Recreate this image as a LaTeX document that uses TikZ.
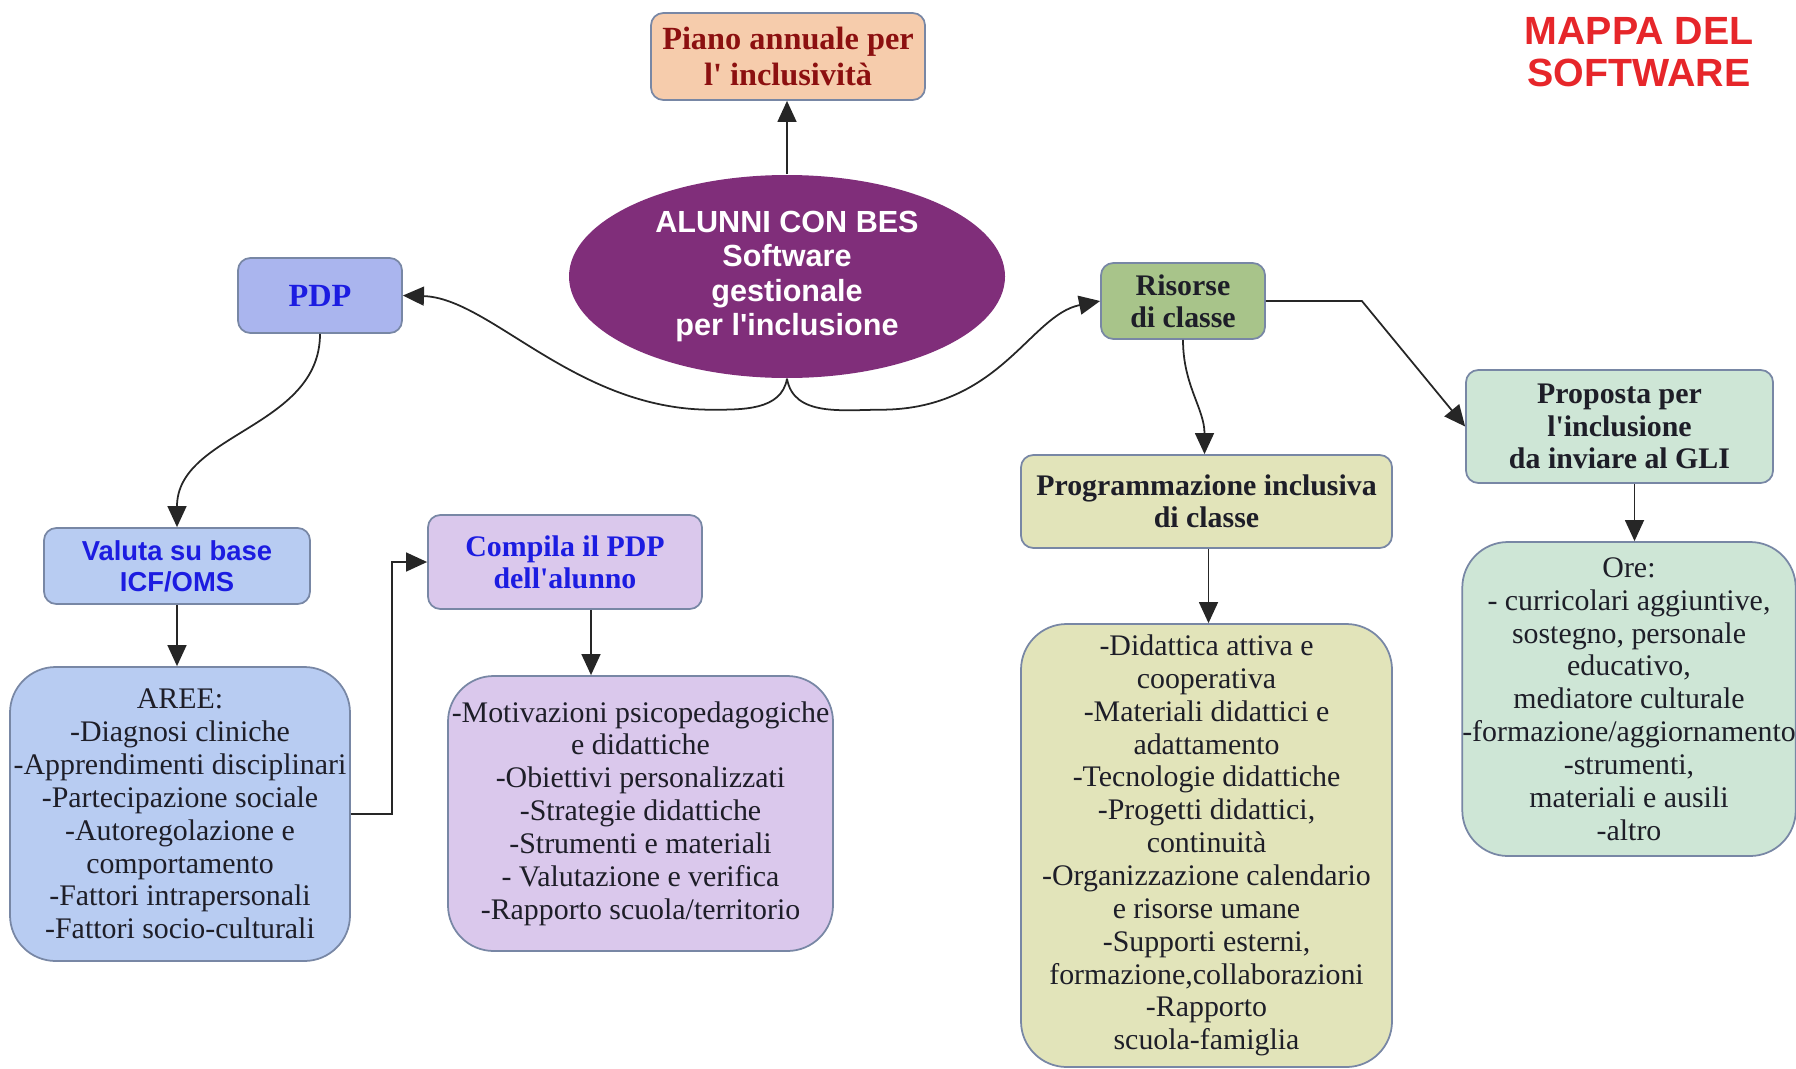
\documentclass[tikz,border=0pt]{standalone}
\usepackage{fontspec}
\setmainfont{Liberation Serif}
\setsansfont{Liberation Sans}
\usetikzlibrary{shapes.geometric, arrows.meta}

\definecolor{pianofill}{RGB}{246,204,172}
\definecolor{pianotext}{RGB}{140,16,16}
\definecolor{besfill}{RGB}{128,46,122}
\definecolor{pdpfill}{RGB}{170,181,238}
\definecolor{valfill}{RGB}{184,204,242}
\definecolor{compfill}{RGB}{218,200,236}
\definecolor{risfill}{RGB}{168,196,138}
\definecolor{progfill}{RGB}{226,228,186}
\definecolor{propfill}{RGB}{206,230,214}
\definecolor{boxline}{RGB}{120,135,165}
\definecolor{titleblue}{RGB}{28,28,225}
\definecolor{darktext}{RGB}{30,30,40}
\definecolor{mappared}{RGB}{230,38,42}

\tikzset{
	box/.style={draw=boxline, line width=0.5pt, rounded corners=3.5pt, inner sep=0pt, align=center},
	bigbox/.style={box, rounded corners=13pt, text=darktext, font=\fontsize{8.5}{9.35}\selectfont},
	head/.style={font=\bfseries\fontsize{8.5}{9.2}\selectfont},
	arr/.style={-{Triangle[length=6pt,width=5.4pt]}, line width=0.5pt, draw=black!85},
}

\begin{document}
\begin{tikzpicture}
	\useasboundingbox (0,0) rectangle (17.96,-10.68);
	% title and centre
	\node[text=mappared, font=\sffamily\bfseries\fontsize{11.2}{12.1}\selectfont, align=center] (mappa) at (16.39,-0.52) {MAPPA DEL\\SOFTWARE};
	\node[box, fill=pianofill, text=pianotext, minimum width=2.74cm, minimum height=0.87cm, font=\bfseries\fontsize{9.2}{10.5}\selectfont] (piano) at (7.88,-0.565) {Piano annuale per\\l\textquotesingle{} inclusività};
	\node[ellipse, fill=besfill, inner sep=0pt, minimum width=4.36cm, minimum height=2.03cm, align=center, text=white, font=\sffamily\bfseries\fontsize{8.7}{9.8}\selectfont] (bes) at (7.87,-2.765) {ALUNNI CON BES\\Software\\gestionale\\per l\textquotesingle{}inclusione};
	% PDP side
	\node[box, fill=pdpfill, text=titleblue, minimum width=1.64cm, minimum height=0.75cm, font=\bfseries\fontsize{9.2}{10}\selectfont] (pdp) at (3.20,-2.955) {PDP};
	\node[box, fill=valfill, text=titleblue, minimum width=2.66cm, minimum height=0.76cm, font=\sffamily\bfseries\fontsize{7.8}{8.9}\selectfont] (valuta) at (1.77,-5.66) {Valuta su base\\ICF/OMS};
	\node[bigbox, fill=valfill, minimum width=3.40cm, minimum height=2.94cm] (aree) at (1.80,-8.14) {AREE:\\-Diagnosi cliniche\\-Apprendimenti disciplinari\\-Partecipazione sociale\\-Autoregolazione e\\comportamento\\-Fattori intrapersonali\\-Fattori socio-culturali};
	\node[box, head, fill=compfill, text=titleblue, minimum width=2.74cm, minimum height=0.94cm] (compila) at (5.65,-5.62) {Compila il PDP\\dell\textquotesingle{}alunno};
	\node[bigbox, fill=compfill, minimum width=3.85cm, minimum height=2.75cm] (moti) at (6.405,-8.135) {-Motivazioni psicopedagogiche\\e didattiche\\-Obiettivi personalizzati\\-Strategie didattiche\\-Strumenti e materiali\\- Valutazione e verifica\\-Rapporto scuola/territorio};
	% risorse side
	\node[box, head, fill=risfill, text=darktext, minimum width=1.64cm, minimum height=0.76cm] (risorse) at (11.83,-3.01) {Risorse\\di classe};
	\node[box, head, fill=progfill, text=darktext, minimum width=3.71cm, minimum height=0.93cm] (prog) at (12.065,-5.015) {Programmazione inclusiva\\di classe};
	\node[bigbox, fill=progfill, minimum width=3.71cm, minimum height=4.43cm] (dida) at (12.065,-8.455) {-Didattica attiva e\\cooperativa\\-Materiali didattici e\\adattamento\\-Tecnologie didattiche\\-Progetti didattici,\\continuità\\-Organizzazione calendario\\e risorse umane\\-Supporti esterni,\\formazione,collaborazioni\\-Rapporto\\scuola-famiglia};
	\node[box, head, fill=propfill, text=darktext, minimum width=3.07cm, minimum height=1.13cm] (proposta) at (16.195,-4.265) {Proposta per\\l\textquotesingle{}inclusione\\da inviare al GLI};
	\node[bigbox, fill=propfill, minimum width=3.30cm, minimum height=3.14cm] (ore) at (16.29,-6.99) {Ore:\\- curricolari aggiuntive,\\sostegno, personale\\educativo,\\mediatore culturale\\-formazione/aggiornamento\\-strumenti,\\materiali e ausili\\-altro};
	% connectors
	\draw[arr] (bes.north) -- (bes.north |- piano.south);
	\draw[arr] (bes.south) to[out=-100,in=0] ++(-0.77,-0.31) .. controls (5.75,-4.09) and (4.9,-2.98) .. (pdp.east);
	\draw[arr] (bes.south) to[out=-80,in=180] ++(0.95,-0.31) .. controls (10.0,-4.09) and (10.3,-3.15) .. (risorse.west);
	\draw[arr] (pdp.south) to[out=-90,in=90] (valuta.north);
	\draw[arr] (valuta.south) -- (valuta.south |- aree.north);
	\draw[arr] (aree.east) -- ++(0.41,0) |- (compila.west);
	\draw[arr] ([xshift=0.26cm]compila.south) -- ([xshift=0.26cm]compila.south |- moti.north);
	\draw[arr] (risorse.south) to[out=-90,in=90] ([xshift=-0.02cm]prog.north);
	\draw[arr] (risorse.east) -- ++(0.96,0) -- (proposta.west);
	\draw[arr] ([xshift=0.02cm]prog.south) -- ([xshift=0.02cm]prog.south |- dida.north);
	\draw[arr] ([xshift=0.15cm]proposta.south) -- ([xshift=0.15cm]proposta.south |- ore.north);
\end{tikzpicture}
\end{document}
